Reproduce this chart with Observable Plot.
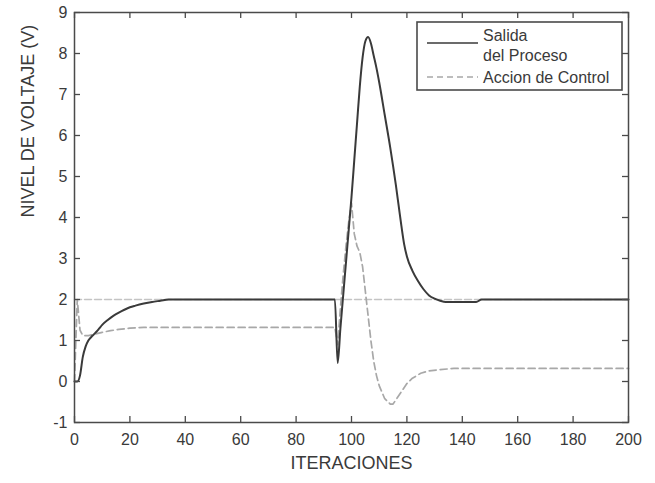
<!DOCTYPE html>
<html>
<head>
<meta charset="utf-8">
<script src="https://cdn.jsdelivr.net/npm/d3@7"></script>
<script src="https://cdn.jsdelivr.net/npm/@observablehq/plot@0.6"></script>
<style>
  html, body { margin: 0; padding: 0; background: #fff; }
  #wrap { position: relative; width: 655px; height: 483px; }
  #legend { position: absolute; left: 416px; top: 21px; }
</style>
</head>
<body>
<div id="wrap"></div>
<script>
// ---- data ----
const xTicks = [0, 20, 40, 60, 80, 100, 120, 140, 160, 180, 200];
const yTicks = [-1, 0, 1, 2, 3, 4, 5, 6, 7, 8, 9];
const xTitle = "ITERACIONES";
const yTitle = "NIVEL DE VOLTAJE (V)";
const seriesNames = ["Salida\ndel Proceso", "Accion de Control"];

const salidaX = [0, 1, 2, 3, 4, 5, 6, 7, 8, 9, 10, 12, 14, 16, 18, 20, 22, 25, 28, 31, 34, 37, 94, 95, 96, 97, 98, 99, 100, 101, 102, 103, 104, 105, 106, 107, 108, 109, 110, 112, 114, 116, 117, 118, 119, 120, 122, 124, 126, 128, 130, 132, 134, 137, 140, 145, 147, 200];
const salidaY = [0, 0, 0.15, 0.6, 0.85, 1.0, 1.08, 1.15, 1.22, 1.3, 1.38, 1.5, 1.6, 1.68, 1.75, 1.81, 1.85, 1.9, 1.94, 1.97, 2.0, 2.0, 2.0, 0.45, 1.3, 2.1, 2.9, 3.7, 4.5, 5.4, 6.3, 7.2, 7.9, 8.3, 8.4, 8.25, 7.95, 7.65, 7.3, 6.5, 5.7, 4.8, 4.3, 3.8, 3.35, 3.05, 2.7, 2.45, 2.25, 2.1, 2.02, 1.97, 1.94, 1.94, 1.94, 1.94, 2.0, 2.0];

const accionX = [0, 1, 2, 3, 5, 7, 10, 13, 16, 20, 25, 94, 95, 96, 97, 98, 99, 100, 101, 102, 103, 104, 105, 106, 107, 108, 109, 110, 112, 114, 115, 116, 118, 120, 122, 125, 128, 132, 137, 200];
const accionY = [0, 2.0, 1.25, 1.12, 1.12, 1.15, 1.2, 1.24, 1.27, 1.3, 1.32, 1.32, 0.9, 1.8, 2.6, 3.3, 3.9, 4.35, 3.6, 3.3, 3.15, 2.8, 2.2, 1.6, 1.0, 0.5, 0.15, -0.1, -0.42, -0.55, -0.55, -0.45, -0.25, -0.05, 0.08, 0.2, 0.26, 0.29, 0.32, 0.32];

const refX = [0, 200];
const refY = [2, 2];

// ---- tables built from arrays ----
const salida = salidaX.map((x, i) => ({x, y: salidaY[i]}));
const accion = accionX.map((x, i) => ({x, y: accionY[i]}));
const ref = refX.map((x, i) => ({x, y: refY[i]}));

const font = "'Liberation Sans', Arial, Helvetica, sans-serif";
const ink = "#3a3a3a";

const chart = Plot.plot({
  width: 655,
  height: 483,
  marginLeft: 74,
  marginRight: 27,
  marginTop: 12,
  marginBottom: 61,
  style: {fontFamily: font, fontSize: "16px", color: ink, background: "#fff"},
  x: {domain: [0, 200], label: null},
  y: {domain: [-1, 9], label: null},
  marks: [
    Plot.line(ref, {x: "x", y: "y", stroke: "#c4c4c4", strokeWidth: 1.5, strokeDasharray: "7,3"}),
    Plot.line(accion, {x: "x", y: "y", stroke: "#a8a8a8", strokeWidth: 1.7, strokeDasharray: "7,4"}),
    Plot.line(salida, {x: "x", y: "y", stroke: ink, strokeWidth: 2, curve: "monotone-x"}),
    Plot.frame({stroke: "#4a4a4a", strokeWidth: 1.5}),
    Plot.tickX(xTicks, {x: d => d, insetTop: 404, stroke: "#4a4a4a", strokeWidth: 1.3}),
    Plot.tickX(xTicks, {x: d => d, insetBottom: 404, stroke: "#4a4a4a", strokeWidth: 1.3}),
    Plot.tickY(yTicks, {y: d => d, insetRight: 548, stroke: "#4a4a4a", strokeWidth: 1.3}),
    Plot.tickY(yTicks, {y: d => d, insetLeft: 548, stroke: "#4a4a4a", strokeWidth: 1.3}),
    Plot.axisX(xTicks, {tickSize: 0, tickPadding: 11, label: null, fontSize: 16, fill: ink, tickFormat: d => String(d)}),
    Plot.axisY(yTicks, {tickSize: 0, tickPadding: 7, label: null, fontSize: 16, fill: ink, tickFormat: d => String(d)}),
    Plot.text([xTitle], {frameAnchor: "bottom", dy: 46, fontSize: 18, fill: ink, text: d => d}),
    Plot.text([yTitle], {frameAnchor: "left", rotate: -90, dx: -46, fontSize: 18, fill: ink, text: d => d})
  ]
});

const wrap = document.getElementById("wrap");
wrap.appendChild(chart);

// ---- legend (inside the axes, as in the reference) ----
const ns = "http://www.w3.org/2000/svg";
const lg = document.createElementNS(ns, "svg");
lg.setAttribute("id", "legend");
lg.setAttribute("width", 208);
lg.setAttribute("height", 71);
lg.style.fontFamily = font;
const box = document.createElementNS(ns, "rect");
box.setAttribute("x", 1); box.setAttribute("y", 1);
box.setAttribute("width", 205); box.setAttribute("height", 68);
box.setAttribute("fill", "#fff"); box.setAttribute("stroke", "#4a4a4a"); box.setAttribute("stroke-width", 1.6);
lg.appendChild(box);

const styles = [
  {stroke: ink, dash: null, lineY: 22, lines: seriesNames[0].split("\n"), baselines: [20, 40]},
  {stroke: "#a8a8a8", dash: "6,4", lineY: 56, lines: seriesNames[1].split("\n"), baselines: [62]}
];
for (const s of styles) {
  const l = document.createElementNS(ns, "line");
  l.setAttribute("x1", 11); l.setAttribute("x2", 62);
  l.setAttribute("y1", s.lineY); l.setAttribute("y2", s.lineY);
  l.setAttribute("stroke", s.stroke); l.setAttribute("stroke-width", 1.7);
  if (s.dash) l.setAttribute("stroke-dasharray", s.dash);
  lg.appendChild(l);
  s.lines.forEach((t, i) => {
    const tx = document.createElementNS(ns, "text");
    tx.setAttribute("x", 67); tx.setAttribute("y", s.baselines[i]);
    tx.setAttribute("font-size", 16); tx.setAttribute("fill", ink);
    tx.textContent = t;
    lg.appendChild(tx);
  });
}
wrap.appendChild(lg);
</script>
</body>
</html>
